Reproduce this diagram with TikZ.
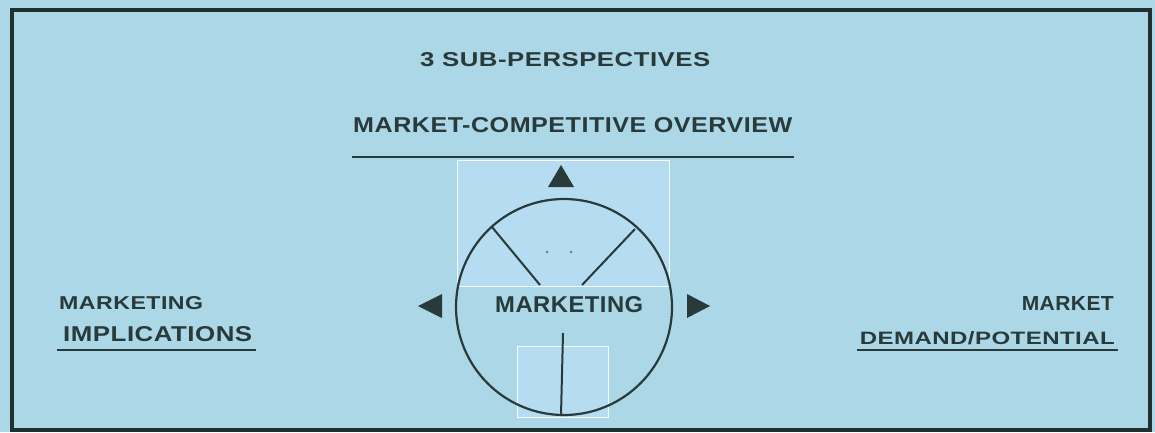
\documentclass[tikz,border=0pt]{standalone}
\usepackage{fontspec}
\setmainfont{Liberation Sans}[LetterSpace=2]
\usepackage{graphicx}
\definecolor{bgblue}{RGB}{172,215,231}
\definecolor{litblue}{RGB}{182,220,241}
\definecolor{ink}{RGB}{40,58,58}
\definecolor{frame}{RGB}{30,48,48}
\newcommand\fitt[3]{\resizebox{#1pt}{#2pt}{\bfseries #3}}
\tikzset{
  lbl/.style={inner sep=0pt, text=ink},
  uline/.style={draw=ink, line width=2.2pt},
  tri/.style={fill=ink, draw=none},
  patch/.style={fill=litblue, draw=white!85!litblue, line width=0.8pt},
  ring/.style={draw=ink, line width=2.2pt},
}
\begin{document}
\begin{tikzpicture}[x=1pt,y=-1pt]
\useasboundingbox (0,0) rectangle (1155,432);
\fill[bgblue] (0,0) rectangle (1155,432);
\draw[frame, line width=3.5pt] (12,10) rectangle (1150,430);
% lighter patches
\draw[patch] (457,160) rectangle (669,286);
\draw[patch] (517,346) rectangle (608,417);
% titles
\node[lbl, anchor=south west] (t1) at (420,67) {\fitt{290}{14}{3 SUB-PERSPECTIVES}};
\node[lbl, anchor=south west] (t2) at (353,133) {\fitt{439}{15}{MARKET-COMPETITIVE OVERVIEW}};
\draw[uline] (352,157) -- (794,157);
% circle
\node[ring, circle, minimum size=216pt, inner sep=0pt] (hub) at (564,307) {};
\coordinate (s1a) at (492,227); \coordinate (s1b) at (540,285);
\coordinate (s2a) at (635,229); \coordinate (s2b) at (582,285);
\coordinate (s3a) at (563,333); \coordinate (s3b) at (561,415);
\draw[ink, line width=2pt] (s1a) -- (s1b);
\draw[ink, line width=2pt] (s2a) -- (s2b);
\draw[ink, line width=2pt] (s3a) -- (s3b);
\fill[ink!60!bgblue] (547,252) circle (1.3pt) (571,252) circle (1.3pt);
\node[lbl, anchor=south west] (mk) at (495,313) {\fitt{148}{16}{MARKETING}};
% arrowheads
\fill[tri] (548,187) -- (574,187) -- (561,165) -- cycle;
\fill[tri] (442,294) -- (442,318) -- (418,306) -- cycle;
\fill[tri] (687,294) -- (687,318) -- (710,306) -- cycle;
% left label
\node[lbl, anchor=south west] (l1) at (59,310) {\fitt{144}{13}{MARKETING}};
\node[lbl, anchor=south west] (l2) at (63,342) {\fitt{189}{15}{IMPLICATIONS}};
\draw[uline] (57,350) -- (256,350);
% right label
\node[lbl, anchor=south east] (r1) at (1114,311) {\fitt{92}{14}{MARKET}};
\node[lbl, anchor=south east] (r2) at (1115,345) {\fitt{255}{13}{DEMAND/POTENTIAL}};
\draw[uline] (857,350) -- (1118,350);
\end{tikzpicture}
\end{document}
